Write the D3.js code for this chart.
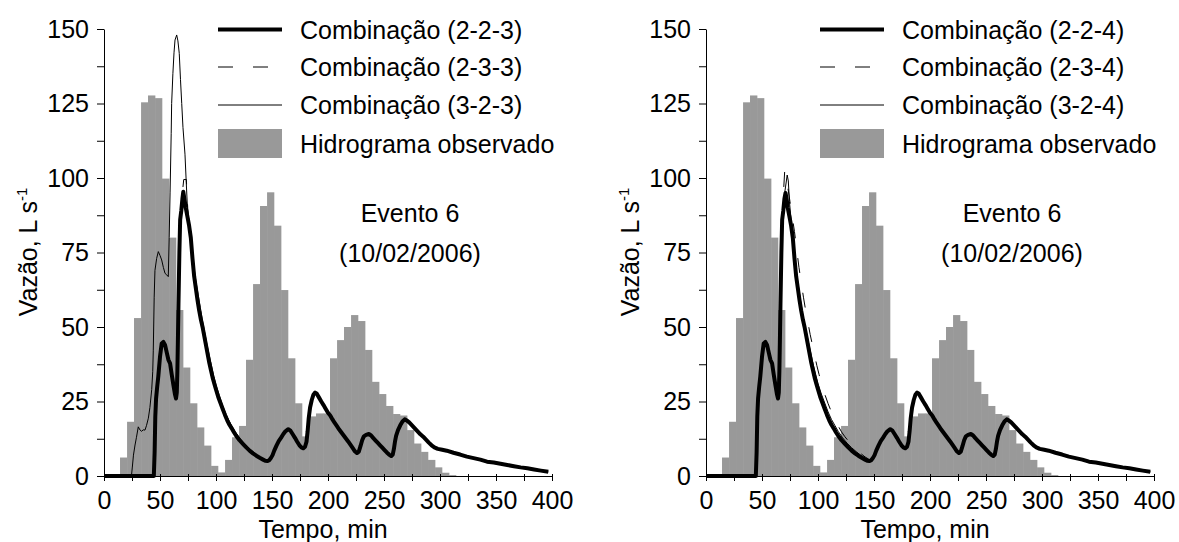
<!DOCTYPE html>
<html>
<head>
<meta charset="utf-8">
<script src="https://cdn.jsdelivr.net/npm/d3@7"></script>
<style>
  body { margin: 0; background: #ffffff; }
  text { font-family: "Liberation Sans", Arial, sans-serif; fill: #000000; }
</style>
</head>
<body>
<div id="chart"></div>
<script>

// #####################################################
// Data (Evento 6, 10/02/2006)
//
var xTicks = [0, 25, 50, 75, 100, 125, 150, 175, 200, 225, 250, 275, 300, 325, 350, 375, 400];
var yTicks = [0, 12.5, 25, 37.5, 50, 62.5, 75, 87.5, 100, 112.5, 125, 137.5, 150];

// observed hydrograph: bar edges (min) and flow (L/s)
var obsEdges = [14.3, 20.6, 26.8, 33.1, 39.3, 45.6, 51.8, 58.1, 64.3, 70.6, 76.8, 83.1, 89.3, 95.6,
  101.8, 108.1, 114.3, 120.6, 126.8, 133.1, 139.3, 145.6, 151.8, 158.1, 164.3, 170.6, 176.8, 183.1,
  189.3, 195.6, 201.8, 208.1, 214.3, 220.6, 226.8, 233.1, 239.3, 245.6, 251.8, 258.1, 264.3, 270.6,
  276.8, 283.1, 289.3, 295.6, 301.8, 308.1, 314.3];
var obsFlow = [6.2, 18.2, 53, 125.4, 127.7, 126.8, 99.8, 80, 55.7, 36.4, 24.4, 16.3, 10.2, 3.4,
  1.2, 5.4, 13, 16.8, 39, 64.4, 90.6, 95.2, 84, 62.4, 39.5, 24.4, 13.3, 20,
  21, 21, 39.5, 45.6, 50, 54, 52, 42.3, 31.6, 27.5, 23.5, 20.8, 20.3, 15.4,
  10.9, 8.1, 5.4, 2.9, 1.1, 0.3];

// simulated hydrographs [min, L/s]
var comb223 = [[0,0],[44.5,0],[45.2,8],[45.8,20],[46.5,26],[47.5,30],[48.5,33.5],[50,40],[51.5,44.5],[53,45],
  [54.5,44],[56,41.5],[57.5,39],[59,37.8],[60.5,34],[62,30.5],[63.3,27.5],[64.3,26],[65,28],[65.5,35],
  [66,46],[66.5,58],[67.3,75],[68,86],[69,89],[70,93],[70.8,95.4],[71.8,93],[73,90],[74.5,87],[76,84],
  [77.5,80],[79,73],[80.5,67],[82,63],[83.5,59],[85,55.5],[86.5,52.5],[88,50],[89.5,47],[91,44],[92.5,41],
  [94,38],[95.5,35.5],[97,33],[98.5,31],[100,29],[102,26.5],[104,24.5],[106,22.5],[108,20.5],[110,18.7],
  [112,17.2],[114,16],[116,14.7],[118,13.5],[121,12],[124,10.8],[127,9.6],[130,8.5],[133,7.6],[136,6.8],
  [139,6.1],[142,5.5],[144,5.1],[146,5],[147.5,5.3],[149,6],[150.5,7],[152,8.5],[154,10.2],[156,11.7],
  [158,12.8],[160,14],[162,15],[164.5,15.7],[166.5,15.2],[168.5,14],[170.5,12.8],[172.5,11.5],[174.5,10.3],
  [176.5,9.5],[178,9.3],[179.5,9.8],[180.8,11.5],[181.8,15],[182.8,19.5],[184,23],[185.5,25.5],[187,27.3],
  [188.5,28],[190,27.6],[192,26.3],[194,25],[196,23.8],[198,22.5],[200,21.2],[202,20.3],[204,19],[206,17.8],
  [208,16.7],[210,15.6],[212,14.6],[214,13.6],[216,12.6],[218,11.6],[220,10.5],[222,9.4],[224,8.3],
  [225.8,7.7],[227.5,8.2],[229,10],[230.5,12],[232,13.3],[234,13.8],[236.5,14.1],[238.5,13.6],[240.5,12.7],
  [242.5,11.9],[244.5,11.1],[246.5,10.3],[248.5,9.5],[250.5,8.7],[252.5,7.9],[254.5,7.2],[256.5,6.7],
  [257.8,7.2],[258.8,9],[259.8,11.5],[260.8,13.5],[262.5,15.4],[264.5,17],[266.5,18.3],[268.5,19],
  [270.5,18.6],[272.5,18],[275,17],[277.5,16],[280,15],[282.5,14],[285,13.2],[287.5,12.2],[290,11.2],
  [292.5,10.3],[295,9.6],[298,9.1],[302,8.8],[306,8.5],[312,7.8],[318,7.2],[324,6.5],[330,6],[336,5.5],
  [342,4.8],[348,4.5],[354,4.1],[360,3.7],[366,3.3],[372,2.9],[378,2.6],[384,2.2],[390,1.8],[396.7,1.4]];

var comb233 = [[0,0],[44.5,0],[45.2,8],[45.8,20],[46.5,26],[48.5,33.5],[51.5,44.5],[53,45],[54.5,44],
  [57.5,39],[59,37.8],[62,30.5],[64.3,26],[65.5,35],[66.5,58],[67.3,75],[68,86],[69.5,92],[70.5,97],
  [71.2,99.5],[73.5,99.5],[74,96],[75,88],[76.5,84],[79,74],[82,64],[85,56],[88,50.5],[91,44.5],[94,38.5],
  [97,33.5],[100,29.5],[104,25],[108,21],[112,17.6],[116,15],[121,12.2],[127,9.8],[133,7.8],[139,6.3],
  [144,5.2],[146,5],[149,6],[152,8.5],[156,11.7],[160,14],[164.5,15.7],[168.5,14],[172.5,11.5],[176.5,9.5],
  [178,9.3],[180.8,11.5],[182.8,19.5],[185.5,25.5],[188.5,28],[192,26.3],[196,23.8],[200,21.2],[204,19],
  [208,16.7],[212,14.6],[216,12.6],[220,10.5],[224,8.3],[225.8,7.7],[229,10],[232,13.3],[236.5,14.1],
  [240.5,12.7],[244.5,11.1],[248.5,9.5],[252.5,7.9],[256.5,6.7],[258.8,9],[260.8,13.5],[264.5,17],
  [268.5,19],[272.5,18],[277.5,16],[282.5,14],[287.5,12.2],[292.5,10.3],[298,9.1],[306,8.5],[318,7.2],
  [330,6],[342,4.8],[354,4.1],[366,3.3],[378,2.6],[390,1.8],[396.7,1.4]];

var comb323 = [[0,0],[24.5,0],[25.3,3],[26.3,7],[27.7,10.4],[29,13],[30.6,16.5],[32,15.5],[33.6,15],
  [35,15.5],[36.6,15.4],[38,17],[39.6,19.4],[41,23],[42.6,29],[43.5,35],[44,42],[44.8,60],[45.5,69],
  [47,73],[48.5,75.3],[50,74],[51.5,72.5],[53,70],[54.5,68],[56,67.5],[57.4,66.9],[58.2,80],[59,95],
  [60,115],[60.4,125],[61.5,135],[62.5,142],[63.4,146.3],[64.9,148],[66,146],[67.2,141.8],[68.3,133],
  [69.4,125],[70.5,117],[72.3,108],[73.5,98],[74.5,90],[76,85],[78,79],[80,71],[82,65.5],[84,61],
  [86,56.5],[88,52],[90,48],[92,44],[94,40.5],[96,37],[98,33.5],[100,30.5],[103,27],[106,23.5],[109,20.7],
  [112,18.3],[115,16.2],[118,14.4],[122,12.3],[126,10.6],[130,9.1],[134,7.8],[138,6.7],[142,5.8],
  [145,5.2],[146,5],[149,6],[152,8.5],[156,11.7],[160,14],[164.5,15.7],[168.5,14],[172.5,11.5],[176.5,9.5],
  [178,9.3],[180.8,11.5],[182.8,19.5],[185.5,25.5],[188.5,28],[192,26.3],[196,23.8],[200,21.2],[204,19],
  [208,16.7],[212,14.6],[216,12.6],[220,10.5],[224,8.3],[225.8,7.7],[229,10],[232,13.3],[236.5,14.1],
  [240.5,12.7],[244.5,11.1],[248.5,9.5],[252.5,7.9],[256.5,6.7],[258.8,9],[260.8,13.5],[264.5,17],
  [268.5,19],[272.5,18],[277.5,16],[282.5,14],[287.5,12.2],[292.5,10.3],[298,9.1],[306,8.5],[318,7.2],
  [330,6],[342,4.8],[354,4.1],[366,3.3],[378,2.6],[390,1.8],[396.7,1.4]];

var comb224 = [[0,0],[44.5,0],[45.2,8],[45.8,20],[46.5,26],[47.5,30],[48.5,33.5],[50,40],[51.5,44.5],[53,45],
  [54.5,44],[56,41.5],[57.5,39],[59,37.8],[60.5,34],[62,30.5],[63.3,27.5],[64.3,26],[65,28],[65.5,35],
  [66,46],[66.5,58],[67.3,75],[68,86],[69,89],[70,93],[71,95],[72,93],[73,90],[74.5,87],[76,84],
  [77.5,80],[79,73],[80.5,67],[82,63],[83.5,59],[85,55.5],[86.5,52.5],[88,50],[89.5,47],[91,44],[92.5,41],
  [94,38],[95.5,35.5],[97,33],[98.5,31],[100,29],[102,26.5],[104,24.5],[106,22.5],[108,20.5],[110,18.7],
  [112,17.2],[114,16],[116,14.7],[118,13.5],[121,12],[124,10.8],[127,9.6],[130,8.5],[133,7.6],[136,6.8],
  [139,6.1],[142,5.5],[144,5.1],[146,5],[147.5,5.3],[149,6],[150.5,7],[152,8.5],[154,10.2],[156,11.7],
  [158,12.8],[160,14],[162,15],[164.5,15.7],[166.5,15.2],[168.5,14],[170.5,12.8],[172.5,11.5],[174.5,10.3],
  [176.5,9.5],[178,9.3],[179.5,9.8],[180.8,11.5],[181.8,15],[182.8,19.5],[184,23],[185.5,25.5],[187,27.3],
  [188.5,28],[190,27.6],[192,26.3],[194,25],[196,23.8],[198,22.5],[200,21.2],[202,20.3],[204,19],[206,17.8],
  [208,16.7],[210,15.6],[212,14.6],[214,13.6],[216,12.6],[218,11.6],[220,10.5],[222,9.4],[224,8.3],
  [225.8,7.7],[227.5,8.2],[229,10],[230.5,12],[232,13.3],[234,13.8],[236.5,14.1],[238.5,13.6],[240.5,12.7],
  [242.5,11.9],[244.5,11.1],[246.5,10.3],[248.5,9.5],[250.5,8.7],[252.5,7.9],[254.5,7.2],[256.5,6.7],
  [257.8,7.2],[258.8,9],[259.8,11.5],[260.8,13.5],[262.5,15.4],[264.5,17],[266.5,18.3],[268.5,19],
  [270.5,18.6],[272.5,18],[275,17],[277.5,16],[280,15],[282.5,14],[285,13.2],[287.5,12.2],[290,11.2],
  [292.5,10.3],[295,9.6],[298,9.1],[302,8.8],[306,8.5],[312,7.8],[318,7.2],[324,6.5],[330,6],[336,5.5],
  [342,4.8],[348,4.5],[354,4.1],[360,3.7],[366,3.3],[372,2.9],[378,2.6],[384,2.2],[390,1.8],[396.7,1.4]];

var comb234 = [[0,0],[44.5,0],[45.2,8],[45.8,20],[46.5,26],[48.5,33.5],[51.5,44.5],[53,45],[54.5,44],
  [57.5,39],[59,37.8],[62,30.5],[64.3,26],[65.5,35],[66.5,58],[67.3,75],[68,86],[69.3,96],[70.3,102.5],
  [71.5,99],[73,97],[75,92],[77,87],[79,82],[81,76],[83,70],[85,65],[87,60],[89,55.5],[91,51.5],[93,47.5],
  [95,44],[97,40.5],[99,37],[101,34],[103,31],[106,27.5],[109,24.3],[112,21.5],[115,19],[118,16.8],
  [121,14.8],[124,13.2],[127,11.8],[130,10.5],[134,9],[138,7.6],[142,6.4],[146,5.5],[149,6],[152,8.5],
  [156,11.7],[160,14],[164.5,15.7],[168.5,14],[172.5,11.5],[176.5,9.5],[178,9.3],[180.8,11.5],[182.8,19.5],
  [185.5,25.5],[188.5,28],[192,26.3],[196,23.8],[200,21.2],[204,19],[208,16.7],[212,14.6],[216,12.6],
  [220,10.5],[224,8.3],[225.8,7.7],[229,10],[232,13.3],[236.5,14.1],[240.5,12.7],[244.5,11.1],[248.5,9.5],
  [252.5,7.9],[256.5,6.7],[258.8,9],[260.8,13.5],[264.5,17],[268.5,19],[272.5,18],[277.5,16],[282.5,14],
  [287.5,12.2],[292.5,10.3],[298,9.1],[306,8.5],[318,7.2],[330,6],[342,4.8],[354,4.1],[366,3.3],
  [378,2.6],[390,1.8],[396.7,1.4]];

var comb324 = [[0,0],[44.5,0],[45.2,8],[45.8,20],[46.5,26],[48.5,33.5],[51.5,44.5],[53,45],[54.5,44],
  [57.5,39],[59,37.8],[62,30.5],[64.3,26],[65.5,35],[66.5,58],[67.3,75],[68,86],[69.5,93],[71,97],
  [72.5,101],[73.5,99],[74.5,92],[76,86],[78,79],[80,71],[82,65],[84,60],[86,55],[88,51],[90,47.5],
  [92,44],[94,40.5],[96,37],[98,34],[100,31],[103,27.5],[106,24.5],[109,21.5],[112,19],[115,17],[118,15],
  [122,12.8],[126,11],[130,9.5],[134,8.2],[138,7],[142,6],[146,5.3],[149,6],[152,8.5],[156,11.7],[160,14],
  [164.5,15.7],[168.5,14],[172.5,11.5],[176.5,9.5],[178,9.3],[180.8,11.5],[182.8,19.5],[185.5,25.5],
  [188.5,28],[192,26.3],[196,23.8],[200,21.2],[204,19],[208,16.7],[212,14.6],[216,12.6],[220,10.5],
  [224,8.3],[225.8,7.7],[229,10],[232,13.3],[236.5,14.1],[240.5,12.7],[244.5,11.1],[248.5,9.5],[252.5,7.9],
  [256.5,6.7],[258.8,9],[260.8,13.5],[264.5,17],[268.5,19],[272.5,18],[277.5,16],[282.5,14],[287.5,12.2],
  [292.5,10.3],[298,9.1],[306,8.5],[318,7.2],[330,6],[342,4.8],[354,4.1],[366,3.3],[378,2.6],[390,1.8],
  [396.7,1.4]];

var namesLeft = ["Combinação (2-2-3)", "Combinação (2-3-3)", "Combinação (3-2-3)", "Hidrograma observado"];
var namesRight = ["Combinação (2-2-4)", "Combinação (2-3-4)", "Combinação (3-2-4)", "Hidrograma observado"];
var eventLabel = ["Evento 6", "(10/02/2006)"];

var barColor = "#999999";
var fontSize = 25;

var svg = d3.select("#chart").append("svg")
    .attr("width", 1179)
    .attr("height", 542);

// #####################################################
// Plot one panel
//
function plot_panel (left, thick, dashed, thin, names) {
  var g = svg.append("g");

  var x = d3.scaleLinear().domain([0, 400]).range([left, left + 448]);
  var y = d3.scaleLinear().domain([0, 150]).range([476, 29]);

  // observed hydrograph bars
  g.selectAll("rect.obs")
      .data(obsFlow)
      .enter().append("rect")
        .attr("class", "obs")
        .attr("x", function(d, i) { return x(obsEdges[i]); })
        .attr("width", function(d, i) { return x(obsEdges[i + 1]) - x(obsEdges[i]) + 0.3; })
        .attr("y", function(d) { return y(d); })
        .attr("height", function(d) { return y(0) - y(d); })
        .style("fill", barColor);

  var line = d3.line()
      .x(function(d) { return x(d[0]); })
      .y(function(d) { return y(d[1]); });

  g.append("path").datum(thin)
      .attr("d", line)
      .style("fill", "none").style("stroke", "#000").style("stroke-width", 1);

  g.append("path").datum(dashed)
      .attr("d", line)
      .style("fill", "none").style("stroke", "#000").style("stroke-width", 1)
      .style("stroke-dasharray", "15,20");

  g.append("path").datum(thick)
      .attr("d", line)
      .style("fill", "none").style("stroke", "#000").style("stroke-width", 4)
      .style("stroke-linejoin", "round");

  // axes
  var xAxis = g.append("g")
      .attr("transform", "translate(0,476)")
      .call(d3.axisBottom(x).tickValues(xTicks)
        .tickFormat(function(d) { return d % 50 === 0 ? d : ""; })
        .tickSizeInner(5).tickSizeOuter(0).tickPadding(10));
  xAxis.selectAll(".tick line").attr("y1", -2);

  var yAxis = g.append("g")
      .attr("transform", "translate(" + left + ",0)")
      .call(d3.axisLeft(y).tickValues(yTicks)
        .tickFormat(function(d) { return d % 25 === 0 ? d : ""; })
        .tickSizeInner(7).tickSizeOuter(0).tickPadding(8));

  [xAxis, yAxis].forEach(function(a) {
    a.attr("font-size", fontSize).attr("font-family", "'Liberation Sans', Arial, sans-serif");
    a.selectAll("text").style("fill", "#000");
    a.selectAll("line, path").style("stroke", "#000");
  });

  g.append("text")
      .attr("x", left + 219)
      .attr("y", 537.5)
      .style("text-anchor", "middle")
      .style("font-size", fontSize + "px")
      .text("Tempo, min");

  var yl = g.append("text")
      .attr("transform", "translate(" + (left - 67) + ",252) rotate(-90)")
      .style("text-anchor", "middle")
      .style("font-size", fontSize + "px");
  yl.append("tspan").text("Vazão, L s");
  yl.append("tspan").text("-1").style("font-size", "15px").attr("dy", "-10");

  // legend
  var lx = left + 114;
  var rows = [29.5, 67, 105, 143.5];
  g.append("line").attr("x1", lx).attr("x2", lx + 64).attr("y1", rows[0]).attr("y2", rows[0])
      .style("stroke", "#000").style("stroke-width", 4);
  g.append("line").attr("x1", lx).attr("x2", lx + 64).attr("y1", rows[1]).attr("y2", rows[1])
      .style("stroke", "#000").style("stroke-width", 1).style("stroke-dasharray", "15,20");
  g.append("line").attr("x1", lx).attr("x2", lx + 64).attr("y1", rows[2]).attr("y2", rows[2])
      .style("stroke", "#000").style("stroke-width", 1);
  g.append("rect").attr("x", lx).attr("y", rows[3] - 14.5).attr("width", 64).attr("height", 29)
      .style("fill", barColor);

  g.selectAll("text.leg")
      .data(names)
      .enter().append("text")
        .attr("class", "leg")
        .attr("x", lx + 82)
        .attr("y", function(d, i) { return rows[i]; })
        .attr("dy", "0.36em")
        .style("font-size", fontSize + "px")
        .text(function(d) { return d; });

  g.selectAll("text.evt")
      .data(eventLabel)
      .enter().append("text")
        .attr("class", "evt")
        .attr("x", left + 306)
        .attr("y", function(d, i) { return 222 + i * 40; })
        .style("text-anchor", "middle")
        .style("font-size", fontSize + "px")
        .text(function(d) { return d; });
}

plot_panel(104, comb223, comb233, comb323, namesLeft);
plot_panel(706, comb224, comb234, comb324, namesRight);

</script>
</body>
</html>
